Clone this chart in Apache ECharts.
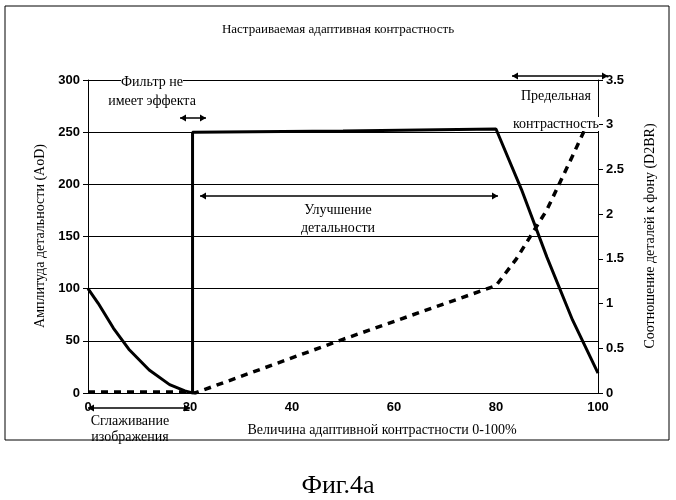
<!DOCTYPE html><html><head><meta charset="utf-8">
<script src="https://cdn.jsdelivr.net/npm/echarts@6/dist/echarts.min.js"></script>
<style>body{margin:0}#c{width:676px;height:500px}</style></head><body><div id="c"></div>
<script>
const xTicks=[0,20,40,60,80,100];
const aodData=[[0,100],[2,86],[5,62],[8,42],[12,22],[16,8],[19,2],[20.5,0],[20.5,250],[50,251],[80,253],[85,195],[90,130],[95,70],[100,19]];
const d2brData=[[0,0.01],[20,0.01],[21,0],[50,0.6],[80,1.2],[84,1.5],[90,2.05],[95,2.65],[98.5,3.08]];
const F='Liberation Serif, DejaVu Serif, serif';
function arrow(x1,x2,y){const h=6,w=3.5;return [
 {type:'line',z:10,shape:{x1:x1,y1:y,x2:x2,y2:y},style:{stroke:'#000',lineWidth:1.5}},
 {type:'polygon',z:10,shape:{points:[[x1,y],[x1+h,y-w],[x1+h,y+w]]},style:{fill:'#000'}},
 {type:'polygon',z:10,shape:{points:[[x2,y],[x2-h,y-w],[x2-h,y+w]]},style:{fill:'#000'}}];}
function txt(x,y,t,s,bg){return {type:'text',z:10,x:x,y:y,style:{text:t,font:(s||14)+'px '+F,fill:'#000',textAlign:'center',textVerticalAlign:'middle',backgroundColor:bg?'#fff':'transparent'}};}
const g=[{type:'rect',shape:{x:5,y:6,width:664,height:434},style:{fill:'none',stroke:'#000',lineWidth:1}},
 txt(338,30,'Настраиваемая адаптивная контрастность',13),
 txt(152,82,'Фильтр не',14,1),txt(152,101,'имеет эффекта',14,1),
 txt(556,96,'Предельная',14,1),txt(556,124,'контрастность',14,1),
 txt(338,210,'Улучшение',14,1),txt(338,228,'детальности',14,1),
 txt(130,421,'Сглаживание'),txt(130,437,'изображения'),
 txt(382,430,'Величина адаптивной контрастности 0-100%'),
 txt(338,486,'Фиг.4а',26),
 {type:'text',x:40,y:236,rotation:Math.PI/2,style:{text:'Амплитуда детальности (AoD)',font:'14px '+F,fill:'#000',textAlign:'center',textVerticalAlign:'middle'}},
 {type:'text',x:650,y:236,rotation:Math.PI/2,style:{text:'Соотношение деталей к фону (D2BR)',font:'14px '+F,fill:'#000',textAlign:'center',textVerticalAlign:'middle'}},
 ...arrow(180,206,118),...arrow(512,608,76),...arrow(200,498,196),...arrow(88,190,408)];
const ch=echarts.init(document.getElementById('c'));
const lab={color:'#000',fontFamily:'Liberation Sans, Arial',fontSize:13,fontWeight:'bold'};
ch.setOption({animation:false,backgroundColor:'#fff',
 grid:{left:88,right:78,top:80,bottom:107},
 xAxis:{type:'value',min:0,max:100,interval:20,axisLine:{lineStyle:{color:'#000'}},axisTick:{show:false},splitLine:{show:false},axisLabel:{...lab,margin:8}},
 yAxis:[{type:'value',min:0,max:300,interval:50,axisLine:{show:true,lineStyle:{color:'#000'}},axisTick:{show:true,lineStyle:{color:'#000'}},
  splitLine:{lineStyle:{color:'#000',width:1}},axisLabel:lab},
  {type:'value',min:0,max:3.5,interval:0.5,axisLine:{show:true,lineStyle:{color:'#000'}},axisTick:{show:true,lineStyle:{color:'#000'}},
  splitLine:{show:false},axisLabel:lab}],
 series:[{type:'line',data:aodData,yAxisIndex:0,symbol:'none',lineStyle:{color:'#000',width:3}},
  {type:'line',data:d2brData,yAxisIndex:1,symbol:'none',lineStyle:{color:'#000',width:3.5,type:[7,6]}}],
 graphic:g});
</script></body></html>
